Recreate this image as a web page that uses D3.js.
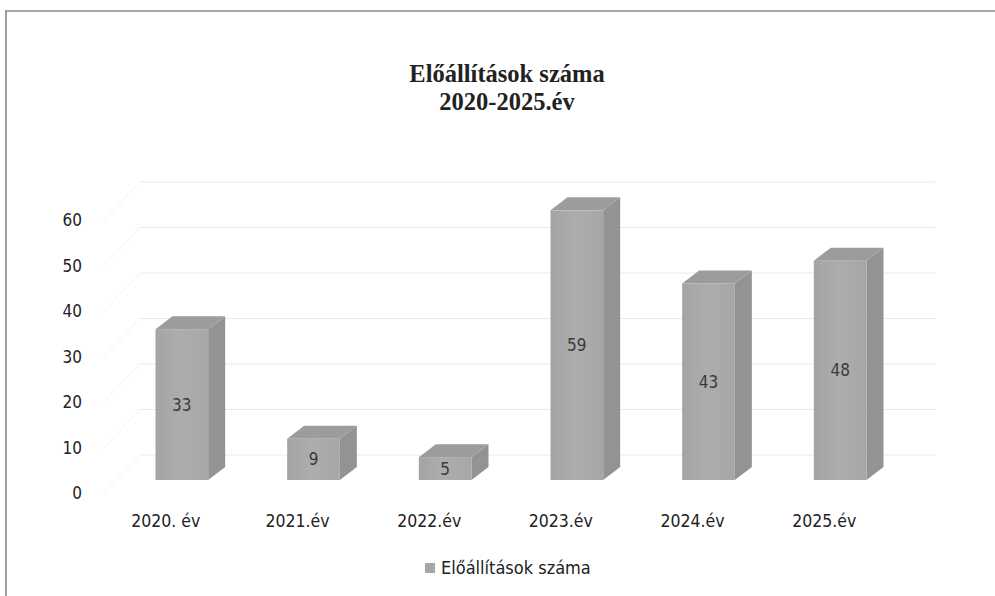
<!DOCTYPE html>
<html>
<head>
<meta charset="utf-8">
<script src="https://cdn.jsdelivr.net/npm/d3@7"></script>
<style>
  html, body { margin: 0; padding: 0; background: #ffffff; }
  svg { display: block; }
</style>
</head>
<body>
<svg id="chart" width="995" height="596"></svg>
<script>
const titleLines = ["Előállítások száma", "2020-2025.év"];
const categories = ["2020. év", "2021.év", "2022.év", "2023.év", "2024.év", "2025.év"];
const values = [33, 9, 5, 59, 43, 48];
const yTicks = [0, 10, 20, 30, 40, 50, 60];
const seriesName = "Előállítások száma";

const W = 995, H = 596;
const svg = d3.select("#chart");
const labelFont = "'DejaVu Sans Condensed', Lato, sans-serif";

// frame
svg.append("line").attr("x1", 5).attr("x2", W).attr("y1", 11).attr("y2", 11)
  .attr("stroke", "#8a8a8a").attr("stroke-width", 1.6);
svg.append("line").attr("x1", 6).attr("x2", 6).attr("y1", 11).attr("y2", H)
  .attr("stroke", "#8a8a8a").attr("stroke-width", 1.6);

// title
const title = svg.append("text").attr("text-anchor", "middle")
  .attr("font-family", "'Liberation Serif', 'Times New Roman', serif")
  .attr("font-weight", "bold").attr("font-size", 24.5).attr("fill", "#222");
titleLines.forEach((t, i) => {
  title.append("tspan").attr("x", 507).attr("y", 82 + i * 28).text(t);
});

// scales
const x = d3.scaleBand().domain(categories).range([116, 906]).paddingInner(0.6).paddingOuter(0.3);
const yFront = d3.scaleLinear().domain([0, 60]).range([480, 480 - 60 * 4.57]);
const yWall = d3.scaleLinear().domain([0, 60]).range([455, 455 - 60 * 4.55]);
const yLabel = d3.scaleLinear().domain([0, 60]).range([493, 493 - 60 * 4.55]);

// back wall gridlines
const wallX0 = 140, wallX1 = 935;
svg.append("g").selectAll("line.grid").data(yTicks).join("line")
  .attr("x1", wallX0).attr("x2", wallX1)
  .attr("y1", d => yWall(d)).attr("y2", d => yWall(d))
  .attr("stroke", "#e9e9e9").attr("stroke-width", 1);
// side wall gridlines
svg.append("g").selectAll("line.side").data(yTicks).join("line")
  .attr("x1", 102).attr("x2", wallX0)
  .attr("y1", d => yWall(d) + 40).attr("y2", d => yWall(d))
  .attr("stroke", "#f3f3f3").attr("stroke-width", 1);

// y axis labels (D3 axis, no lines)
const yAxis = d3.axisLeft(yLabel).tickValues(yTicks).tickSize(0).tickPadding(0);
const yg = svg.append("g").attr("transform", "translate(82,0)").call(yAxis);
yg.select(".domain").remove();
yg.selectAll("text").attr("font-family", labelFont).attr("font-size", 17)
  .attr("fill", "#222").attr("dy", "0.35em");

// x axis labels (placed along the front floor edge, slightly left of bar centres)
const xAxis = d3.axisBottom(x).tickSize(0).tickPadding(0);
const xg = svg.append("g").attr("transform", "translate(-16,527)").call(xAxis);
xg.select(".domain").remove();
xg.selectAll("text").attr("font-family", labelFont).attr("font-size", 17.5)
  .attr("fill", "#222").attr("dy", "0");

// 3D bars
const dx = 17, dy = -13;
const defs = svg.append("defs");
const gFront = defs.append("linearGradient").attr("id", "gFront").attr("x1", 0).attr("x2", 1).attr("y1", 0).attr("y2", 0);
gFront.append("stop").attr("offset", "0%").attr("stop-color", "#a4a4a4");
gFront.append("stop").attr("offset", "50%").attr("stop-color", "#adadad");
gFront.append("stop").attr("offset", "100%").attr("stop-color", "#a6a6a6");

const bars = svg.append("g").selectAll("g.bar").data(categories.map((c, i) => ({ c, v: values[i] }))).join("g");
bars.each(function(d) {
  const g = d3.select(this);
  const x0 = x(d.c), x1 = x0 + x.bandwidth();
  const yt = yFront(d.v), yb = yFront(0);
  // side
  g.append("polygon")
    .attr("points", [[x1, yt], [x1 + dx, yt + dy], [x1 + dx, yb + dy], [x1, yb]].map(p => p.join(",")).join(" "))
    .attr("fill", "#939393");
  // top
  g.append("polygon")
    .attr("points", [[x0, yt], [x0 + dx, yt + dy], [x1 + dx, yt + dy], [x1, yt]].map(p => p.join(",")).join(" "))
    .attr("fill", "#9c9c9c");
  // front
  g.append("rect").attr("x", x0).attr("y", yt).attr("width", x1 - x0).attr("height", yb - yt)
    .attr("fill", "url(#gFront)");
  // value label
  g.append("text").attr("x", (x0 + x1) / 2).attr("y", (yt + yb) / 2).attr("dy", "0.35em")
    .attr("text-anchor", "middle").attr("font-family", labelFont).attr("font-size", 17)
    .attr("fill", "#3a3a3a").text(d.v);
});

// legend
const lg = svg.append("g");
lg.append("rect").attr("x", 425).attr("y", 563).attr("width", 10).attr("height", 10).attr("fill", "#a6a6a6");
lg.append("text").attr("x", 441).attr("y", 568).attr("dy", "0.35em")
  .attr("font-family", labelFont).attr("font-size", 18).attr("fill", "#222").text(seriesName);
</script>
</body>
</html>
